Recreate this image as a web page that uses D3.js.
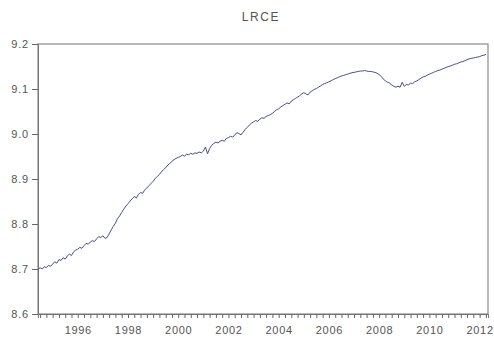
<!DOCTYPE html>
<html>
<head>
<meta charset="utf-8">
<script src="https://cdn.jsdelivr.net/npm/d3@7"></script>
<style>
  html, body { margin: 0; padding: 0; background: #fff; }
  svg { display: block; }
  text { font-family: "Liberation Sans", Arial, sans-serif; }
</style>
</head>
<body>
<script>
// LRCE, monthly, 1994M06 - 2012M04
const startYear = 1994, startMonth = 6;
const lrce1994 = [8.699, 8.703, 8.700, 8.705, 8.703, 8.708, 8.706];
const lrce1995 = [8.711, 8.716, 8.713, 8.721, 8.719, 8.725, 8.722, 8.729, 8.733, 8.730, 8.738, 8.742];
const lrce1996 = [8.744, 8.748, 8.746, 8.752, 8.757, 8.755, 8.760, 8.763, 8.761, 8.767, 8.772, 8.770];
const lrce1997 = [8.774, 8.768, 8.770, 8.778, 8.787, 8.795, 8.802, 8.812, 8.818, 8.826, 8.833, 8.840];
const lrce1998 = [8.845, 8.851, 8.856, 8.861, 8.858, 8.866, 8.870, 8.868, 8.876, 8.880, 8.885, 8.890];
const lrce1999 = [8.895, 8.901, 8.906, 8.910, 8.916, 8.921, 8.925, 8.931, 8.935, 8.939, 8.943, 8.946];
const lrce2000 = [8.948, 8.950, 8.953, 8.951, 8.955, 8.954, 8.957, 8.955, 8.958, 8.957, 8.960, 8.958];
const lrce2001 = [8.962, 8.971, 8.956, 8.968, 8.975, 8.979, 8.982, 8.980, 8.984, 8.986, 8.984, 8.990];
const lrce2002 = [8.992, 8.995, 8.993, 8.998, 9.003, 9.001, 8.998, 9.004, 9.010, 9.015, 9.020, 9.024];
const lrce2003 = [9.027, 9.030, 9.028, 9.033, 9.036, 9.035, 9.039, 9.041, 9.043, 9.046, 9.050, 9.054];
const lrce2004 = [9.056, 9.060, 9.063, 9.066, 9.069, 9.067, 9.073, 9.076, 9.079, 9.082, 9.085, 9.089];
const lrce2005 = [9.092, 9.089, 9.087, 9.093, 9.096, 9.099, 9.101, 9.104, 9.107, 9.110, 9.112, 9.114];
const lrce2006 = [9.116, 9.118, 9.121, 9.123, 9.125, 9.127, 9.129, 9.130, 9.132, 9.133, 9.135, 9.136];
const lrce2007 = [9.137, 9.138, 9.139, 9.140, 9.140, 9.141, 9.140, 9.139, 9.139, 9.138, 9.137, 9.135];
const lrce2008 = [9.132, 9.128, 9.122, 9.118, 9.115, 9.113, 9.109, 9.106, 9.104, 9.106, 9.104, 9.115];
const lrce2009 = [9.106, 9.110, 9.109, 9.113, 9.112, 9.116, 9.118, 9.121, 9.124, 9.127, 9.128, 9.131];
const lrce2010 = [9.133, 9.135, 9.137, 9.139, 9.141, 9.142, 9.144, 9.146, 9.148, 9.150, 9.151, 9.153];
const lrce2011 = [9.155, 9.156, 9.158, 9.160, 9.161, 9.163, 9.165, 9.167, 9.168, 9.169, 9.170, 9.171];
const lrce2012 = [9.172, 9.174, 9.175, 9.177];

const yTicks = [8.6, 8.7, 8.8, 8.9, 9.0, 9.1, 9.2];
const xTickYears = [1996, 1998, 2000, 2002, 2004, 2006, 2008, 2010, 2012];
const title = "LRCE";

const values = [].concat(lrce1994, lrce1995, lrce1996, lrce1997, lrce1998, lrce1999,
  lrce2000, lrce2001, lrce2002, lrce2003, lrce2004, lrce2005, lrce2006, lrce2007,
  lrce2008, lrce2009, lrce2010, lrce2011, lrce2012);
const series = values.map((v, i) => ({ t: startYear + (startMonth - 1 + i) / 12, v }));

const W = 494, H = 341;
const m = { left: 38, right: 6, top: 44, bottom: 27 };
const labelFont = "'Liberation Sans', Arial, sans-serif";

const svg = d3.select("body").append("svg").attr("width", W).attr("height", H);

const x = d3.scaleLinear()
  .domain([startYear + (startMonth - 1) / 12, startYear + (startMonth - 1 + values.length) / 12])
  .range([m.left, W - m.right]);
const y = d3.scaleLinear().domain([8.6, 9.2]).range([H - m.bottom, m.top]);

// title
svg.append("text").attr("x", 261).attr("y", 21).attr("text-anchor", "middle")
  .attr("font-size", 12).attr("letter-spacing", "1.6px").attr("fill", "#555").text(title);

// frame
svg.append("rect").attr("x", m.left).attr("y", m.top)
  .attr("width", W - m.right - m.left).attr("height", H - m.bottom - m.top)
  .attr("fill", "none").attr("stroke", "#8a8a8a").attr("stroke-width", 1.2);

// y axis
const yAxis = d3.axisLeft(y).tickValues(yTicks).tickFormat(d3.format(".1f")).tickSize(6).tickPadding(3);
const gy = svg.append("g").attr("transform", `translate(${m.left},0)`).call(yAxis);
gy.select(".domain").attr("stroke", "#777");
gy.selectAll(".tick line").attr("stroke", "#666");
gy.selectAll(".tick text").attr("font-size", 11).attr("letter-spacing", "0.8px")
  .attr("fill", "#555").attr("font-family", labelFont);

// x axis: quarterly ticks, labels every two years
const quarterTicks = d3.range(Math.ceil(x.domain()[0] * 4), Math.floor(x.domain()[1] * 4) + 1).map(q => q / 4);
const xAxis = d3.axisBottom(x).tickValues(quarterTicks).tickFormat("").tickSize(4);
const gx = svg.append("g").attr("transform", `translate(0,${H - m.bottom})`).call(xAxis);
gx.select(".domain").attr("stroke", "#777");
gx.selectAll(".tick line").attr("stroke", "#666");

const xLabelAxis = d3.axisBottom(x).tickValues(xTickYears).tickFormat(d3.format("d")).tickSize(0).tickPadding(12);
const gxl = svg.append("g").attr("transform", `translate(0,${H - m.bottom})`).call(xLabelAxis);
gxl.select(".domain").remove();
gxl.selectAll(".tick text").attr("font-size", 11).attr("letter-spacing", "0.7px")
  .attr("fill", "#555").attr("font-family", labelFont);

// series line
const line = d3.line().x(d => x(d.t)).y(d => y(d.v));
svg.append("path").datum(series).attr("d", line)
  .attr("fill", "none").attr("stroke", "#4a4a94").attr("stroke-width", 1).attr("stroke-linejoin", "round");
</script>
</body>
</html>
